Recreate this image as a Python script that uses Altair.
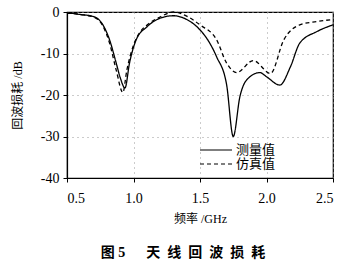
import altair as alt
import pandas as pd

meas_f = [0.5, 0.52, 0.6, 0.7, 0.77, 0.82, 0.87, 0.9, 0.936, 0.97, 1.02, 1.1, 1.2, 1.3, 1.4, 1.5, 1.56, 1.625, 1.7, 1.75, 1.8, 1.85, 1.95, 2.0, 2.1, 2.18, 2.25, 2.38, 2.5]
meas_db = [-0.3, -0.3, -0.6, -1.1, -3.1, -6.7, -12.3, -15.8, -18.3, -12.3, -6.7, -3.6, -1.5, -0.9, -1.8, -4.3, -6.8, -10.8, -17.5, -30.0, -20.4, -16.4, -14.6, -15.6, -17.6, -13.2, -7.5, -4.7, -3.1]

sim_f = [0.5, 0.52, 0.6, 0.7, 0.77, 0.82, 0.87, 0.92, 0.95, 1.0, 1.05, 1.1, 1.2, 1.3, 1.4, 1.5, 1.625, 1.7, 1.776, 1.9, 2.03, 2.13, 2.25, 2.38, 2.5]
sim_db = [-0.3, -0.3, -0.6, -1.2, -3.4, -7.5, -14.0, -19.4, -14.0, -8.0, -4.8, -3.2, -1.2, 0.0, -1.0, -3.1, -6.7, -12.3, -14.6, -11.7, -14.8, -6.7, -3.1, -2.3, -1.8]

series_names = ["测量值", "仿真值"]
x_ticks = [0.5, 1.0, 1.5, 2.0, 2.5]
y_ticks = [-40, -30, -20, -10, 0]

df = pd.concat([
    pd.DataFrame({"f": meas_f, "db": meas_db, "s": series_names[0]}),
    pd.DataFrame({"f": sim_f, "db": sim_db, "s": series_names[1]}),
])

font = "Liberation Serif, Noto Sans CJK SC"
dash_range = [[1, 0], [4, 3]]

lines = alt.Chart(df).mark_line(color="black", strokeWidth=1.3, interpolate="monotone").encode(
    x=alt.X("f:Q", scale=alt.Scale(domain=[0.5, 2.5], nice=False),
            axis=alt.Axis(values=x_ticks, format=".1f", title="频率 /GHz",
                          titleFont=font, titleFontSize=12, titleFontWeight="normal",
                          titlePadding=8, labelPadding=9)),
    y=alt.Y("db:Q", scale=alt.Scale(domain=[-40, 0], nice=False),
            axis=alt.Axis(values=y_ticks, labelExpr="datum.value + ''", title="回波损耗 /dB",
                          titleFont=font, titleFontSize=12, titleFontWeight="normal",
                          titlePadding=16, labelPadding=4)),
    strokeDash=alt.StrokeDash("s:N", sort=series_names,
                              scale=alt.Scale(domain=series_names, range=dash_range), legend=None),
)

leg_layers = []
for i, name in enumerate(series_names):
    ly = 138 + i * 14
    leg_layers.append(
        alt.Chart(pd.DataFrame({"s": [name]})).mark_rule(color="black", strokeWidth=1.2,
                                                         strokeDash=dash_range[i]).encode(
            x=alt.value(133), x2=alt.value(165), y=alt.value(ly))
    )
    leg_layers.append(
        alt.Chart(pd.DataFrame({"s": [name]})).mark_text(align="left", baseline="middle", font=font,
                                                         fontSize=13, color="black").encode(
            x=alt.value(169), y=alt.value(ly), text="s:N")
    )

title_text = "图 5\u3000\u2002天\u2002线\u2002回\u2002波\u2002损\u2002耗"

chart = alt.layer(lines, *leg_layers).properties(
    width=266, height=166,
    title=alt.TitleParams(title_text, orient="bottom", font=font, fontSize=14,
                          fontWeight="bold", offset=22, anchor="middle", dx=-17),
    padding={"left": 67, "top": 12, "right": 16, "bottom": 94},
    autosize=alt.AutoSizeParams(type="none"),
).configure_view(stroke="black", strokeWidth=1.2).configure_axis(
    grid=True, gridColor="#999999", gridDash=[1, 4], gridWidth=1,
    domainColor="black", domainWidth=1.2, tickColor="black", tickSize=4,
    labelFont=font, labelFontSize=14, labelColor="black", titleColor="black",
)

chart.save("out.html", embed_options={"renderer": "svg", "actions": False})
